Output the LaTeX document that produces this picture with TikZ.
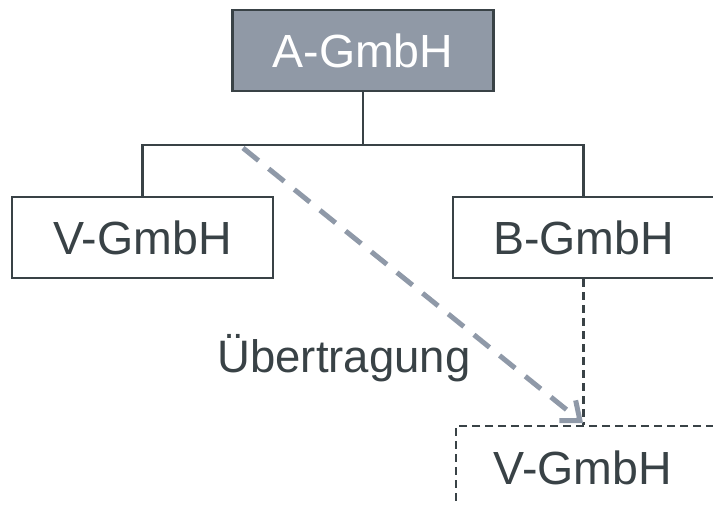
\documentclass[tikz,border=0pt]{standalone}
\usepackage{fontspec}
\setmainfont{Liberation Sans}
\usetikzlibrary{arrows.meta}
\definecolor{ink}{HTML}{394246}
\definecolor{slate}{HTML}{9099A6}
\definecolor{flow}{HTML}{8F99A8}
\tikzset{
  big/.style={font=\fontsize{46.5}{52}\selectfont},
  unit/.style={draw=ink, line width=2.4pt, minimum width=261pt, minimum height=81pt,
    inner sep=0pt, big, text=ink},
  parent/.style={unit, fill=slate, text=white},
  planned/.style={unit, minimum width=290pt, dash pattern=on 8pt off 5pt},
  tie/.style={draw=ink, line width=2.4pt},
  tiedash/.style={tie, dash pattern=on 8pt off 5pt},
  transfer/.style={draw=flow, line width=5pt, dash pattern=on 20pt off 13pt,
    -{Straight Barb[length=16pt, width=26pt, line width=5pt]}}
}
\begin{document}
\begin{tikzpicture}[x=1pt, y=-1pt]
  \useasboundingbox (0,0) rectangle (713,505);
  \begin{scope}
    \clip (0,0) rectangle (713,505);
    \node[parent]  (a)  at (363,50.5)  {A-GmbH};
    \node[unit]    (v)  at (142.5,237.5) {V-GmbH};
    \node[unit]    (b)  at (583.5,237.5) {B-GmbH};
    \node[planned, anchor=north west] (vn) at (455,425) {};
    \node[big, text=ink] (vnt) at (583,468) {V-GmbH};
    \coordinate (fork) at (363,145);
    \draw[tie] (a.south) -- (fork);
    \draw[tie] (v.north) |- (fork) -| (b.north);
    \draw[tiedash] (b.south) -- (b.south |- vn.north);
    \coordinate (src) at (243,148);
    \coordinate (dst) at (583,423);
    \draw[transfer] (src) -- (dst);
    \node[font=\fontsize{45.5}{52}\selectfont, text=ink] (lbl) at (344,358) {Übertragung};
  \end{scope}
\end{tikzpicture}
\end{document}
